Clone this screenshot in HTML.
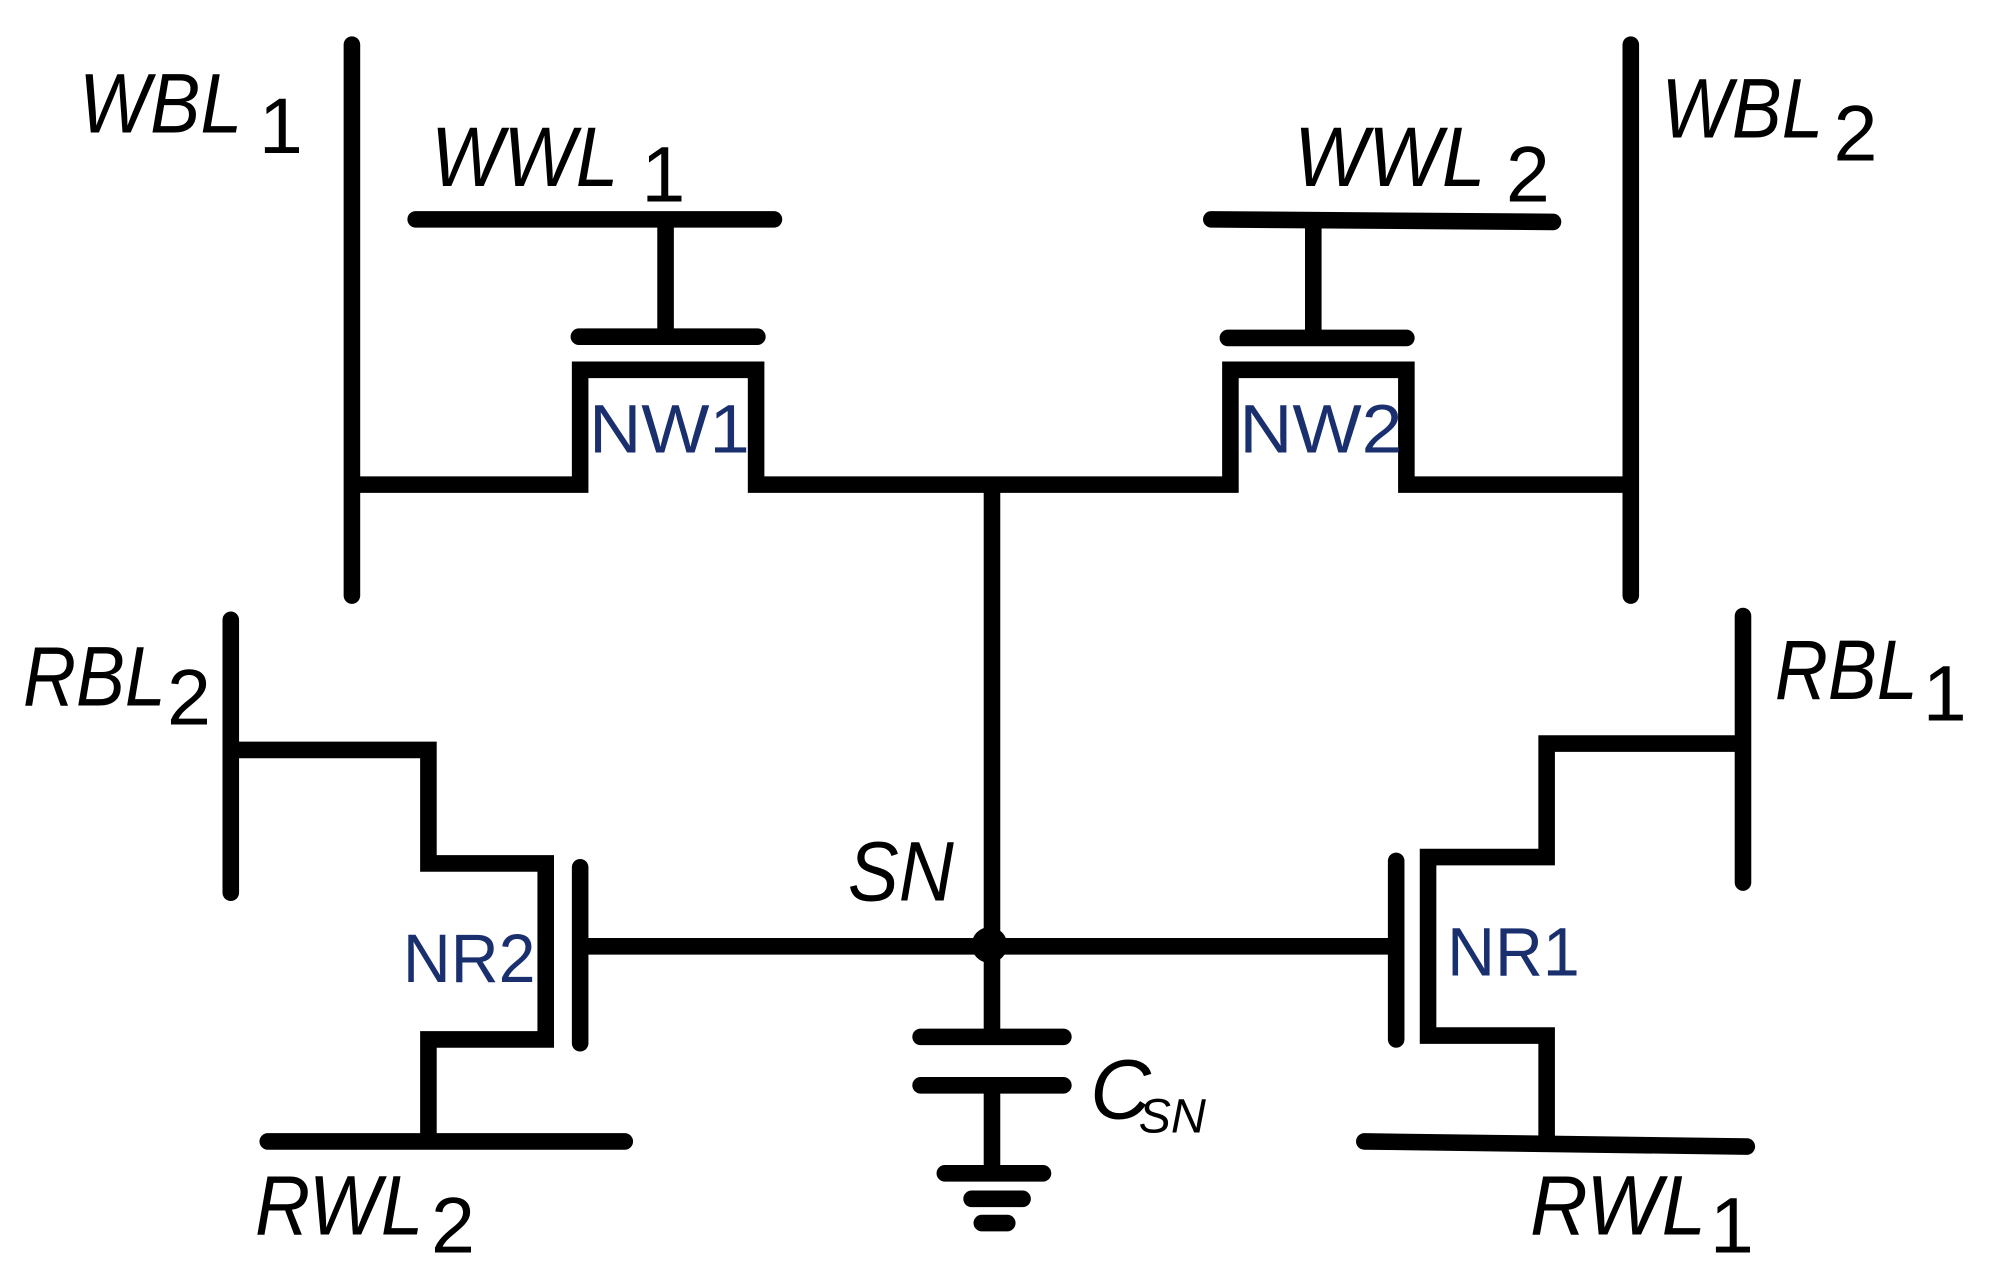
<!DOCTYPE html>
<html><head><meta charset="utf-8"><style>
html,body{margin:0;padding:0;background:#fff;}
svg{display:block;}
text{font-family:"Liberation Sans",sans-serif;}
.l{font-style:italic;font-size:66px;fill:#000;}
.s{font-size:62px;fill:#000;}
.b{font-size:54px;fill:#1a2f6e;}
</style></head><body>
<svg width="1998" height="1283" viewBox="0 0 1567 1006" preserveAspectRatio="none" xmlns="http://www.w3.org/2000/svg">
<g stroke="#000" stroke-width="13" stroke-linecap="round" stroke-linejoin="miter" fill="none">
<line x1="276" y1="35" x2="276" y2="467"/>
<line x1="1279" y1="35" x2="1279" y2="467"/>
<line x1="326" y1="172" x2="607" y2="172"/>
<line x1="522" y1="172" x2="522" y2="264" stroke-linecap="butt"/>
<line x1="454" y1="264" x2="594" y2="264"/>
<line x1="950" y1="172" x2="1218" y2="174"/>
<line x1="1030" y1="173" x2="1030" y2="264" stroke-linecap="butt"/>
<line x1="963" y1="265" x2="1103" y2="265"/>
<polyline stroke-linecap="butt" points="280,380 455,380 455,290 593,290 593,380 965,380 965,290 1103,290 1103,380 1275,380"/>
<line x1="778" y1="380" x2="778" y2="812" stroke-linecap="butt"/>
<line x1="455" y1="742" x2="1092" y2="742" stroke-linecap="butt"/>
<line x1="455" y1="680" x2="455" y2="818"/>
<polyline stroke-linecap="butt" points="183,588 336,588 336,677 428,677 428,815 336,815 336,893"/>
<line x1="181" y1="486" x2="181" y2="700"/>
<line x1="210" y1="895" x2="490" y2="895"/>
<line x1="1095" y1="675" x2="1095" y2="815"/>
<polyline stroke-linecap="butt" points="1363,583 1213,583 1213,672 1120,672 1120,812 1213,812 1213,893"/>
<line x1="1367" y1="483" x2="1367" y2="692"/>
<line x1="1070" y1="895" x2="1370" y2="899"/>
<line x1="722" y1="813" x2="834" y2="813"/>
<line x1="722" y1="851" x2="834" y2="851"/>
<line x1="778" y1="851" x2="778" y2="920" stroke-linecap="butt"/>
<line x1="741" y1="920" x2="818" y2="920"/>
<line x1="762" y1="940" x2="802" y2="940"/>
<line x1="770" y1="959" x2="790" y2="959"/>
</g>
<circle cx="776" cy="741" r="14" fill="#000"/>
<text class="l" x="62" y="104" textLength="128" lengthAdjust="spacingAndGlyphs">WBL</text><text class="s" x="203" y="120">1</text>
<text class="l" x="338" y="146" textLength="147" lengthAdjust="spacingAndGlyphs">WWL</text><text class="s" x="503" y="158">1</text>
<text class="l" x="1015" y="146" textLength="150" lengthAdjust="spacingAndGlyphs">WWL</text><text class="s" x="1181" y="158">2</text>
<text class="l" x="1303" y="108" textLength="127" lengthAdjust="spacingAndGlyphs">WBL</text><text class="s" x="1438" y="126">2</text>
<text class="l" x="18" y="553" textLength="112" lengthAdjust="spacingAndGlyphs">RBL</text><text class="s" x="131" y="568">2</text>
<text class="l" x="1392" y="548" textLength="112" lengthAdjust="spacingAndGlyphs">RBL</text><text class="s" x="1508" y="565">1</text>
<text class="l" x="665" y="706" textLength="83" lengthAdjust="spacingAndGlyphs">SN</text>
<text class="l" x="855" y="877">C</text><text class="l" x="893" y="888" style="font-size:38px">SN</text>
<text class="l" x="200" y="968" textLength="132" lengthAdjust="spacingAndGlyphs">RWL</text><text class="s" x="338" y="982">2</text>
<text class="l" x="1200" y="968" textLength="138" lengthAdjust="spacingAndGlyphs">RWL</text><text class="s" x="1341" y="982">1</text>
<text class="b" x="462" y="355" textLength="126" lengthAdjust="spacingAndGlyphs">NW1</text>
<text class="b" x="972" y="355" textLength="128" lengthAdjust="spacingAndGlyphs">NW2</text>
<text class="b" x="316" y="770" textLength="104" lengthAdjust="spacingAndGlyphs">NR2</text>
<text class="b" x="1135" y="765" textLength="104" lengthAdjust="spacingAndGlyphs">NR1</text>
</svg>
</body></html>
